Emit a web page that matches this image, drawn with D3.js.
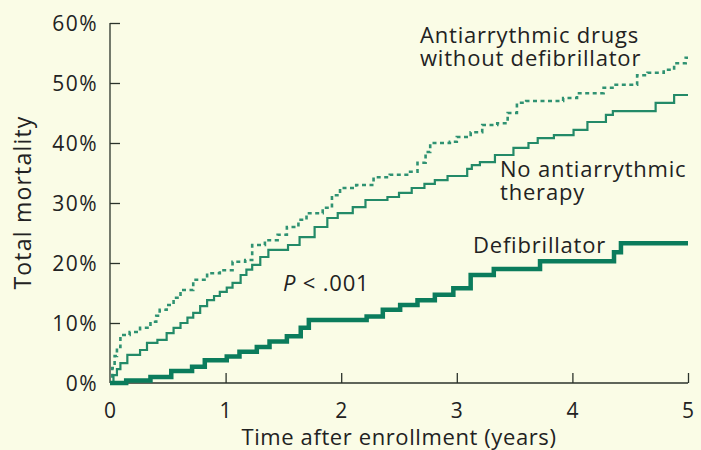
<!DOCTYPE html>
<html>
<head>
<meta charset="utf-8">
<script src="https://cdn.jsdelivr.net/npm/d3@7"></script>
<style>
  html, body { margin: 0; padding: 0; background: #fafce6; }
  svg { display: block; }
  text { font-family: "Open Sans", "Noto Sans", sans-serif; fill: #222; }
</style>
</head>
<body>
<script>
// step points: [years, mortality %] (value after each step)
const defibrillator = [
  [0, 0], [0.14, 0.4], [0.35, 1.0], [0.53, 2.0], [0.71, 2.7], [0.82, 3.8],
  [1.01, 4.4], [1.12, 5.2], [1.27, 6.0], [1.38, 6.9], [1.53, 7.8], [1.65, 9.2],
  [1.72, 10.5], [2.22, 11.1], [2.36, 12.2], [2.51, 13.0], [2.66, 13.8],
  [2.81, 14.7], [2.97, 15.8], [3.12, 18.0], [3.32, 19.0], [3.72, 20.3],
  [4.36, 21.8], [4.42, 23.3], [5, 23.3]
]

const noTherapy = [
  [0, 0], [0.03, 1.3], [0.06, 2.3], [0.09, 3.3], [0.15, 4.7], [0.26, 5.5],
  [0.32, 6.7], [0.41, 7.2], [0.49, 8.3], [0.55, 9.2], [0.61, 10.0], [0.67, 10.9],
  [0.72, 11.7], [0.78, 12.8], [0.84, 13.8], [0.9, 14.5], [0.95, 15.2],
  [1.01, 15.9], [1.06, 16.7], [1.13, 18.0], [1.18, 18.9], [1.23, 19.7],
  [1.3, 21.0], [1.37, 22.2], [1.54, 23.0], [1.64, 24.3], [1.77, 26.0],
  [1.88, 27.5], [1.97, 28.3], [2.1, 29.3], [2.21, 30.5], [2.4, 31.0],
  [2.5, 31.7], [2.61, 32.5], [2.72, 33.2], [2.81, 33.8], [2.92, 34.5],
  [3.09, 35.7], [3.13, 36.3], [3.2, 36.8], [3.33, 38.0], [3.49, 39.2],
  [3.62, 40.0], [3.7, 40.8], [3.84, 41.3], [4.01, 42.2], [4.13, 43.5],
  [4.29, 44.7], [4.35, 45.3], [4.72, 46.7], [4.88, 48.0], [5, 48.0]
]

const drugs = [
  [0, 0], [0.02, 2.5], [0.04, 4.5], [0.06, 6.0], [0.09, 8.0], [0.17, 8.5],
  [0.26, 9.2], [0.35, 10.2], [0.4, 11.2], [0.43, 12.2], [0.49, 13.0],
  [0.55, 14.2], [0.61, 15.5], [0.72, 17.2], [0.84, 18.3], [0.95, 18.8],
  [1.06, 20.2], [1.17, 20.5], [1.23, 23.0], [1.34, 23.8], [1.45, 24.7],
  [1.53, 26.0], [1.63, 27.2], [1.7, 28.3], [1.84, 29.2], [1.92, 31.3],
  [1.99, 32.5], [2.13, 33.0], [2.28, 34.3], [2.42, 34.7], [2.57, 35.2],
  [2.66, 36.7], [2.73, 38.5], [2.77, 40.0], [2.94, 40.2], [3.0, 41.0],
  [3.12, 41.8], [3.22, 43.0], [3.35, 43.3], [3.44, 45.0], [3.52, 46.7],
  [3.6, 47.0], [3.92, 47.5], [4.04, 48.3], [4.27, 49.2], [4.36, 49.7],
  [4.56, 51.3], [4.65, 51.7], [4.79, 52.2], [4.88, 53.3], [4.98, 54.2], [5, 54.2]
]

const xTicks = [0, 1, 2, 3, 4, 5]
const yTicks = [0, 10, 20, 30, 40, 50, 60]

const width = 701, height = 450
const margin = { top: 23, right: 13, bottom: 67, left: 110 }

const svg = d3.select("body")
              .append("svg")
              .attr("width", width)
              .attr("height", height)

const x = d3.scaleLinear().domain([0, 5]).range([margin.left, width - margin.right])
const y = d3.scaleLinear().domain([0, 60]).range([height - margin.bottom, margin.top])

const axisColor = "#2b332b"

// y axis, ticks pointing inward
const gy = svg.append("g")
              .attr("transform", `translate(${margin.left},0)`)
              .call(d3.axisRight(y).tickValues(yTicks).tickSize(10).tickFormat(""))
gy.select(".domain").attr("d", `M0,${y(60)}V${y(0)}`)
gy.selectAll("line, path").attr("stroke", axisColor).attr("stroke-width", 1.3)
gy.selectAll(".tick").filter(d => d === 0).remove()

gy.selectAll(".ylab")
  .data(yTicks)
  .join("text")
    .attr("class", "ylab")
    .attr("x", -12)
    .attr("y", d => y(d))
    .attr("dy", "0.36em")
    .attr("text-anchor", "end")
    .style("font-size", "21px")
    .style("letter-spacing", "1.5px")
    .text(d => d + "%")

// x axis, ticks pointing up
const gx = svg.append("g")
              .attr("transform", `translate(0,${y(0)})`)
              .call(d3.axisTop(x).tickValues(xTicks).tickSize(10).tickFormat(""))
gx.select(".domain").attr("d", `M${x(0)},0H${x(5)}`)
gx.selectAll("line, path").attr("stroke", axisColor).attr("stroke-width", 1.3)
gx.selectAll(".tick").filter(d => d === 0).remove()

gx.selectAll(".xlab")
  .data(xTicks)
  .join("text")
    .attr("class", "xlab")
    .attr("x", d => x(d))
    .attr("y", 35)
    .attr("text-anchor", "middle")
    .style("font-size", "21px")
    .text(d => d)

svg.append("text")
   .attr("x", x(2.5))
   .attr("y", 445)
   .attr("text-anchor", "middle")
   .style("font-size", "22px")
   .style("letter-spacing", "0.6px")
   .text("Time after enrollment (years)")

svg.append("text")
   .attr("transform", `translate(31,${(118 + 287) / 2}) rotate(-90)`)
   .attr("text-anchor", "middle")
   .style("font-size", "23px")
   .style("letter-spacing", "1.2px")
   .text("Total mortality")

// curves
const line = d3.line()
               .x(d => x(d[0]))
               .y(d => y(d[1]))
               .curve(d3.curveStepAfter)

svg.append("path")
   .datum(drugs)
   .attr("fill", "none")
   .attr("stroke", "#2f9272")
   .attr("stroke-width", 2.6)
   .attr("stroke-dasharray", "4,3.5")
   .attr("d", line)

svg.append("path")
   .datum(noTherapy)
   .attr("fill", "none")
   .attr("stroke", "#238a68")
   .attr("stroke-width", 2.2)
   .attr("d", line)

svg.append("path")
   .datum(defibrillator)
   .attr("fill", "none")
   .attr("stroke", "#0b7c5c")
   .attr("stroke-width", 4.5)
   .attr("d", line)

// labels
const labels = svg.append("g")
                  .style("font-size", "22px")
                  .style("letter-spacing", "0.8px")
labels.append("text").attr("x", 420).attr("y", 43).text("Antiarrythmic drugs")
labels.append("text").attr("x", 420).attr("y", 66).text("without defibrillator")
labels.append("text").attr("x", 500).attr("y", 177).text("No antiarrythmic")
labels.append("text").attr("x", 500).attr("y", 200).text("therapy")
labels.append("text").attr("x", 473).attr("y", 253).text("Defibrillator")

const p = labels.append("text").attr("x", 283).attr("y", 291)
p.append("tspan").style("font-style", "italic").text("P")
p.append("tspan").text(" < .001")
</script>
</body>
</html>
